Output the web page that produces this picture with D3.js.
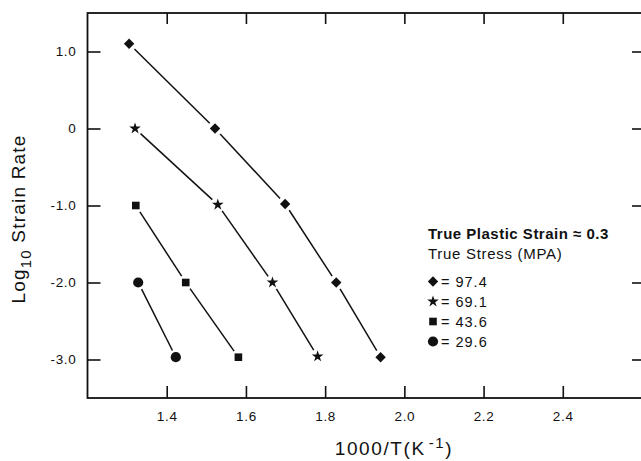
<!DOCTYPE html>
<html>
<head>
<meta charset="utf-8">
<script src="https://cdn.jsdelivr.net/npm/d3@7/dist/d3.min.js"></script>
<style>
  html, body { margin: 0; padding: 0; background: #fff; }
  svg { display: block; }
  text { font-family: "Liberation Sans", Arial, Helvetica, sans-serif; fill: #111; }
</style>
</head>
<body>
<svg id="chart" width="641" height="461"></svg>
<script>
// ---- data ----
const seriesNames = ["97.4", "69.1", "43.6", "29.6"];      // true stress (MPa)
const seriesSymbols = ["diamond", "star", "square", "circle"];
const x974 = [1.305, 1.522, 1.699, 1.828, 1.940];
const y974 = [1.10, 0.00, -0.98, -2.00, -2.97];
const x691 = [1.320, 1.529, 1.667, 1.781];
const y691 = [0.00, -0.99, -2.00, -2.96];
const x436 = [1.322, 1.448, 1.581];
const y436 = [-1.00, -2.00, -2.97];
const x296 = [1.328, 1.423];
const y296 = [-2.00, -2.97];
const xTicks = [1.4, 1.6, 1.8, 2.0, 2.2, 2.4];
const xTickLabels = ["1.4", "1.6", "1.8", "2.0", "2.2", "2.4"];
const yTicks = [1, 0, -1, -2, -3];
const yTickLabels = ["1.0", "0", "-1.0", "-2.0", "-3.0"];

const seriesX = [x974, x691, x436, x296];
const seriesY = [y974, y691, y436, y296];

(function () {
// ---- layout ----
const svg = d3.select("#chart");
const pL = 87.5, pR = 642, pT = 13, pB = 398;
const x = d3.scaleLinear().domain([1.2, 2.6]).range([pL, pR]);
const y = d3.scaleLinear().domain([-3.5, 1.5]).range([pB, pT]);

const symbolType = {
  diamond: d3.symbolSquare,
  star: d3.symbolStar,
  square: d3.symbolSquare,
  circle: d3.symbolCircle
};
const symbolSize = { diamond: 54, star: 42, square: 58, circle: 82 };
const symbolRot = { diamond: 45, star: 0, square: 0, circle: 0 };

// ---- axes ----
const fmtX = (d) => xTickLabels[xTicks.indexOf(d)];
const fmtY = (d) => yTickLabels[yTicks.indexOf(d)];

const gB = svg.append("g").attr("transform", `translate(0,${pB})`)
  .call(d3.axisBottom(x).tickValues(xTicks).tickFormat(fmtX).tickSizeInner(-12).tickSizeOuter(0).tickPadding(13));
const gT = svg.append("g").attr("transform", `translate(0,${pT})`)
  .call(d3.axisTop(x).tickValues(xTicks).tickFormat("").tickSizeInner(-11).tickSizeOuter(0));
const gL = svg.append("g").attr("transform", `translate(${pL},0)`)
  .call(d3.axisLeft(y).tickValues(yTicks).tickFormat(fmtY).tickSizeInner(-13).tickSizeOuter(0).tickPadding(11));
const gR = svg.append("g").attr("transform", `translate(${pR},0)`)
  .call(d3.axisRight(y).tickValues(yTicks).tickFormat("").tickSizeInner(-10).tickSizeOuter(0));

[gB, gT, gL, gR].forEach(g => {
  g.select(".domain").remove();
  g.selectAll(".tick line").attr("stroke", "#111").attr("stroke-width", 1.6);
  g.selectAll(".tick text").attr("fill", "#111").style("font-size", "13.5px")
    .style("font-family", '"Liberation Sans", Arial, sans-serif').style("letter-spacing", "0.7px");
});

svg.append("rect")
  .attr("x", pL).attr("y", pT)
  .attr("width", pR - pL).attr("height", pB - pT)
  .attr("fill", "none").attr("stroke", "#111").attr("stroke-width", 1.8);

// ---- lines with gaps at markers ----
const gap = 7.5;
const lineG = svg.append("g");
seriesX.forEach((xs, si) => {
  const ys = seriesY[si];
  for (let i = 0; i < xs.length - 1; i++) {
    const x1 = x(xs[i]), y1 = y(ys[i]), x2 = x(xs[i + 1]), y2 = y(ys[i + 1]);
    const L = Math.hypot(x2 - x1, y2 - y1);
    const ux = (x2 - x1) / L, uy = (y2 - y1) / L;
    lineG.append("line")
      .attr("x1", x1 + ux * gap).attr("y1", y1 + uy * gap)
      .attr("x2", x2 - ux * gap).attr("y2", y2 - uy * gap)
      .attr("stroke", "#111").attr("stroke-width", 1.5);
  }
});

// ---- markers ----
const markG = svg.append("g");
seriesX.forEach((xs, si) => {
  const kind = seriesSymbols[si];
  const sym = d3.symbol().type(symbolType[kind]).size(symbolSize[kind]);
  xs.forEach((xv, i) => {
    markG.append("path")
      .attr("d", sym())
      .attr("transform", `translate(${x(xv)},${y(seriesY[si][i])}) rotate(${symbolRot[kind]})`)
      .attr("fill", "#111");
  });
});

// ---- legend ----
const leg = svg.append("g");
leg.append("text").attr("x", 428).attr("y", 239)
  .style("font-size", "15px").style("font-weight", "bold").style("letter-spacing", "0.5px")
  .text("True Plastic Strain \u2248 0.3");
leg.append("text").attr("x", 428).attr("y", 259)
  .style("font-size", "15px").style("letter-spacing", "0.7px")
  .text("True Stress (MPA)");
seriesNames.forEach((name, i) => {
  const kind = seriesSymbols[i];
  const cy = 281.5 + i * 20;
  const sym = d3.symbol().type(symbolType[kind]).size(symbolSize[kind]);
  leg.append("path").attr("d", sym())
    .attr("transform", `translate(433,${cy}) rotate(${symbolRot[kind]})`)
    .attr("fill", "#111");
  leg.append("text").attr("x", 441).attr("y", cy + 5)
    .style("font-size", "14.5px").style("letter-spacing", "1px")
    .text("= " + name);
});

// ---- axis titles ----
const xt = svg.append("text").attr("x", 394).attr("y", 455).attr("text-anchor", "middle")
  .style("font-size", "19px").style("letter-spacing", "1.6px");
xt.append("tspan").text("1000/T(K");
xt.append("tspan").attr("dy", -7).attr("dx", 3).style("font-size", "15px").text("-1");
xt.append("tspan").attr("dy", 7).text(")");

const yt = svg.append("text").attr("transform", "translate(25,219) rotate(-90)")
  .attr("text-anchor", "middle")
  .style("font-size", "19px").style("letter-spacing", "1.2px");
yt.append("tspan").text("Log");
yt.append("tspan").attr("dy", 6).style("font-size", "15px").text("10");
yt.append("tspan").attr("dy", -6).text(" Strain Rate");
})();
</script>
</body>
</html>
